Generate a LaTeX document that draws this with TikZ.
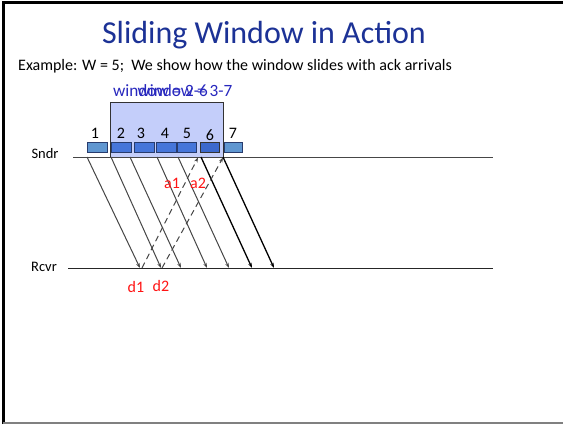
\documentclass[tikz,border=0pt]{standalone}
\usepackage{fontspec}
\setmainfont{Carlito}
\usetikzlibrary{arrows.meta}
\definecolor{titleblue}{RGB}{28,50,150}
\definecolor{winblue}{RGB}{40,40,190}
\definecolor{winfill}{RGB}{196,206,250}
\definecolor{pktlight}{RGB}{95,150,208}
\definecolor{pktmid}{RGB}{70,118,218}
\definecolor{pktdark}{RGB}{60,105,205}
\definecolor{pktedge}{RGB}{40,60,110}
\definecolor{linegray}{RGB}{70,70,70}
\definecolor{ackred}{RGB}{255,20,20}
\begin{document}
\begin{tikzpicture}[x=1pt,y=-1pt,
  pkt/.style={draw=pktedge,line width=0.7pt,minimum height=10pt,inner sep=0pt,anchor=north west},
  num/.style={font=\fontsize{16}{18}\selectfont,anchor=base,inner sep=0pt},
  lbl/.style={font=\fontsize{14.5}{16}\selectfont,anchor=base,inner sep=0pt},
  redlbl/.style={font=\fontsize{16}{18}\selectfont,text=ackred,anchor=base,inner sep=0pt},
  winlbl/.style={font=\fontsize{17.2}{19}\selectfont,text=winblue,inner sep=0pt},
  data/.style={draw=linegray,line width=1pt,-{Stealth[length=5pt,width=3.5pt]}},
  datab/.style={draw=black,line width=1.3pt,-{Stealth[length=5pt,width=3.5pt]}},
  ack/.style={draw=linegray,line width=1pt,dash pattern=on 6pt off 4pt,-{Stealth[length=5pt,width=3.5pt]}}]
\useasboundingbox (0,0) rectangle (563,424);
\fill[white] (0,0) rectangle (563,424);
% frame
\draw[line width=2.4pt] (3.3,424) -- (3.3,2.5) -- (563,2.5);
\draw[gray,line width=1.8pt] (3.3,423) -- (563,423);
% title
\node[anchor=base,font=\fontsize{32}{36}\selectfont,text=titleblue,inner sep=0pt] (title) at (264,43) {Sliding Window in Action};
\node[anchor=base west,font=\fontsize{16}{19}\selectfont,inner sep=0pt] (sub) at (18,70) {Example: W = 5;\ \ We show how the window slides with ack arrivals};
% window labels (overlaid, as in the slide)
\node[winlbl,anchor=base west] (w1) at (113,96.5) {window = 2-6};
\node[winlbl,anchor=base east] (w2) at (232.5,96.5) {window = 3-7};
% window box
\draw[fill=winfill,draw=black!80,line width=0.8pt] (110,102.7) rectangle (223,157);
% time lines
\draw[linegray,line width=1pt] (73,157) -- (493,157);
\draw[black!85,line width=1pt] (68,268) -- (493,268);
\node[lbl] (sndr) at (45,158) {Sndr};
\node[lbl] (rcvr) at (44,271) {Rcvr};
% packets
\node[pkt,fill=pktlight,minimum width=20pt] (p1) at (87,142) {};
\node[pkt,fill=pktmid,minimum width=20pt] (p2) at (111,142) {};
\node[pkt,fill=pktmid,minimum width=20pt] (p3) at (134,142) {};
\node[pkt,fill=pktmid,minimum width=20pt] (p4) at (156,142) {};
\node[pkt,fill=pktmid,minimum width=19pt] (p5) at (177,142) {};
\node[pkt,fill=pktdark,draw=black!80,minimum width=19pt] (p6) at (200,142) {};
\node[pkt,fill=pktlight,minimum width=18pt] (p7) at (224,142) {};
% numbers
\node[num] (n1) at (95,138) {1};
\node[num] (n2) at (121,138) {2};
\node[num] (n3) at (141,138) {3};
\node[num] (n4) at (165,138) {4};
\node[num] (n5) at (187,138) {5};
\node[num] (n6) at (210,140) {6};
\node[num] (n7) at (233,138) {7};
% endpoints
\coordinate (s1) at (87,157);  \coordinate (r1) at (140,268);
\coordinate (s2) at (111,157); \coordinate (r2) at (161,268);
\coordinate (s3) at (130,157); \coordinate (r3) at (181,268);
\coordinate (s4) at (157,157); \coordinate (r4) at (207,268);
\coordinate (s5) at (178,157); \coordinate (r5) at (229,268);
\coordinate (s6) at (201,157); \coordinate (r6) at (252,268);
\coordinate (s7) at (223,157); \coordinate (r7) at (274,268);
\coordinate (k1) at (142,268); \coordinate (t1) at (198,157.5);
\coordinate (k2) at (162,268); \coordinate (t2) at (223,157.5);
% data arrows
\draw[data] (s1) -- (r1);
\draw[data] (s2) -- (r2);
\draw[data] (s3) -- (r3);
\draw[data] (s4) -- (r4);
\draw[data] (s5) -- (r5);
\draw[datab] (s6) -- (r6);
\draw[datab] (s7) -- (r7);
% acks
\draw[ack] (k1) -- (t1);
\draw[ack] (k2) -- (t2);
% red labels
\node[redlbl] (a1) at (172,188) {a1};
\node[redlbl] (a2) at (198,188) {a2};
\node[redlbl] (d1) at (136,292) {d1};
\node[redlbl] (d2) at (161,291) {d2};
\end{tikzpicture}
\end{document}
